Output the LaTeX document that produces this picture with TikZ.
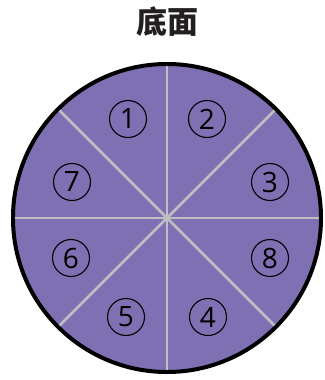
\documentclass[tikz,border=0pt]{standalone}
\usepackage{fontspec}
\newfontfamily\cjkfont{Noto Sans CJK SC}
\newfontfamily\digitfont{Open Sans}
\definecolor{FaceColor}{RGB}{127,112,179}
\definecolor{SpokeColor}{RGB}{190,190,195}
\definecolor{TitleColor}{RGB}{35,31,32}
\usetikzlibrary{positioning}
\tikzset{
    face/.style={draw=black, line width=4pt, fill=FaceColor},
    spoke/.style={draw=SpokeColor, line width=2.6pt},
    slot/.style={circle, draw=black, line width=1.1pt, minimum size=37pt, inner sep=0pt,
        font=\digitfont\fontsize{28}{28}\selectfont},
    title/.style={font=\cjkfont\bfseries\fontsize{31}{31}\selectfont, text=TitleColor}
}

\begin{document}
\begin{tikzpicture}[x=1pt, y=-1pt]
    \useasboundingbox (0,0) rectangle (324,380);
    % Title
    \node[title] (heading) at (167,22) {底面};
    % Bottom face
    \coordinate (centre) at (167,218);
    \draw[face] (centre) circle[radius=154];
    % Spokes
    \foreach \ang in {0,45,...,315}
        \draw[spoke] (centre) -- ++(\ang:152);
    % Numbered sectors
    \node[slot] (s1) at (128,119) {1};
    \node[slot] (s2) at (207,119) {2};
    \node[slot] (s3) at (270,182) {3};
    \node[slot] (s8) at (270,258) {8};
    \node[slot] (s4) at (208,317) {4};
    \node[slot] (s5) at (126,317) {5};
    \node[slot] (s6) at (71,258) {6};
    \node[slot] (s7) at (72,182) {7};
\end{tikzpicture}
\end{document}
